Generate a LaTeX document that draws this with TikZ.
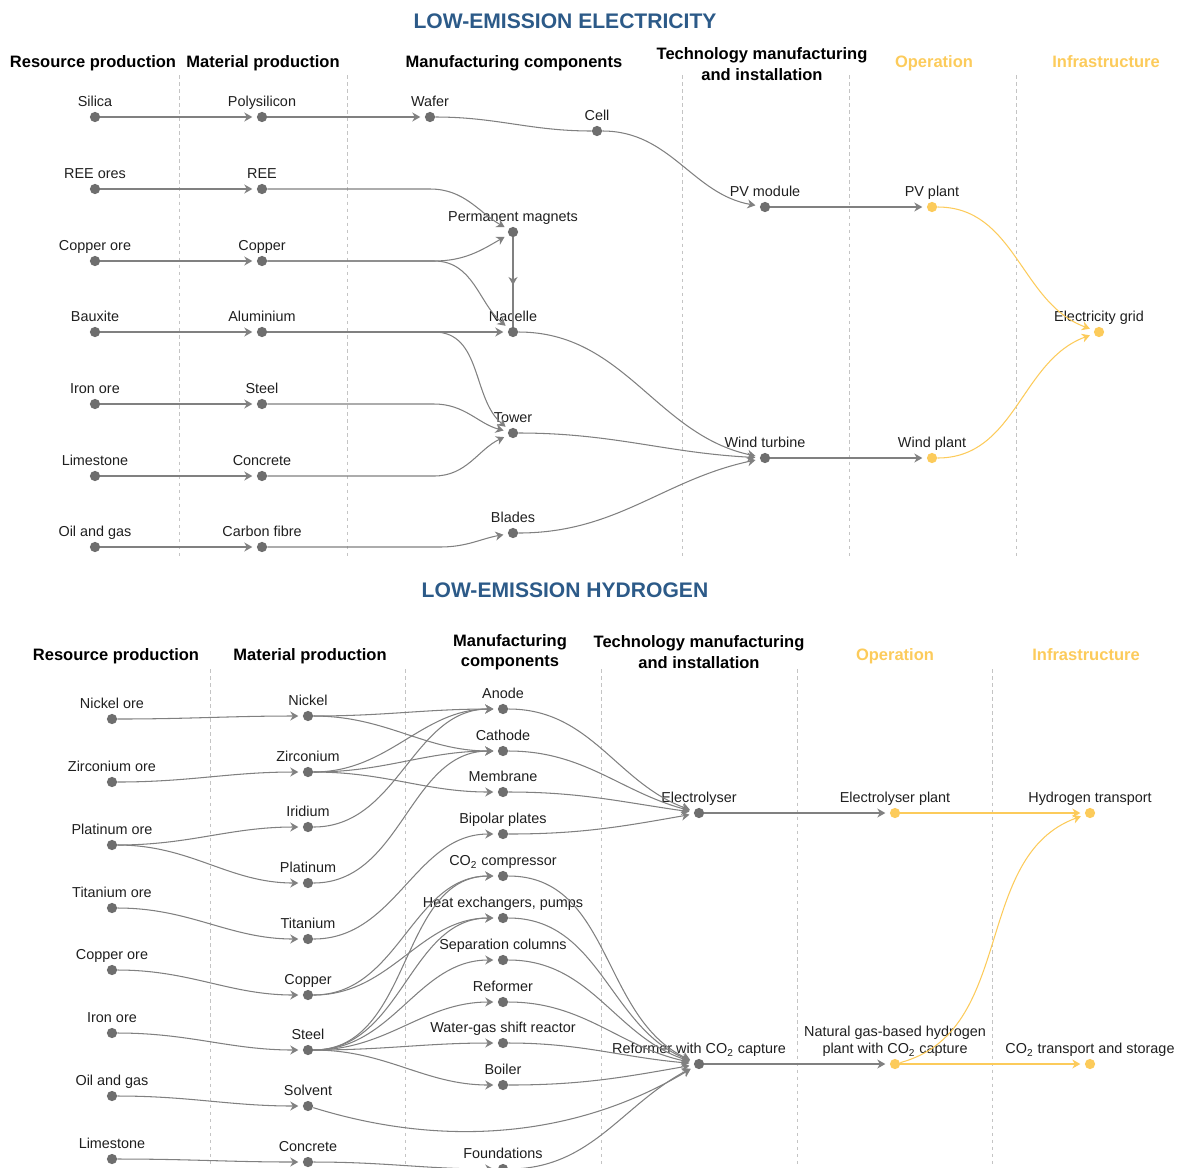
\documentclass[tikz,border=0pt]{standalone}
\usepackage{fontspec}
\setmainfont{Liberation Sans}
\usetikzlibrary{arrows.meta}

\definecolor{linkgray}{HTML}{808080}
\definecolor{dotgray}{HTML}{6E6E6E}
\definecolor{opyellow}{HTML}{FCCB5B}
\definecolor{titleblue}{HTML}{2C5A88}
\definecolor{sepgray}{HTML}{C4C4C4}

\begin{document}
\begin{tikzpicture}[
    x=0.02cm, y=0.02cm,
    dot/.style={circle, fill=dotgray, inner sep=0pt, minimum size=2.05mm},
    ydot/.style={dot, fill=opyellow},
    lbl/.style={font=\fontsize{8.2}{9.8}\selectfont, text=black!88, inner sep=0pt, text depth=0pt, align=center},
    every label/.style={lbl},
    label distance=2.4pt,
    plain/.style={draw=linkgray, line width=0.6pt},
    link/.style={plain, -{Stealth[length=1.6mm,width=1.8mm,inset=0.5mm]}, shorten >=2.4pt},
    ylink/.style={link, draw=opyellow},
    sep/.style={draw=sepgray, line width=0.5pt, dash pattern=on 2pt off 2pt},
    head/.style={font=\fontsize{9.4}{11.6}\selectfont\bfseries, align=center},
    yhead/.style={head, text=opyellow},
    title/.style={font=\fontsize{12}{14}\selectfont\bfseries, text=titleblue}
  ]
  \useasboundingbox (0,0) rectangle (1182,-1167);

  % ---- low-emission electricity ----
  \node[title, anchor=base] (eTitle) at (565,-28) {LOW-EMISSION ELECTRICITY};
  \node[head, anchor=base] (eH1) at (93,-67) {Resource production};
  \node[head, anchor=base] (eH2) at (263,-67) {Material production};
  \node[head, anchor=base] (eH3) at (514,-67) {Manufacturing components};
  \node[head] (eH4) at (762,-64) {Technology manufacturing\\and installation};
  \node[yhead, anchor=base] (eH5) at (934,-67) {Operation};
  \node[yhead, anchor=base] (eH6) at (1106,-67) {Infrastructure};

  \foreach \x in {179,347,682,849,1016}
    \draw[sep] (\x,-75) -- (\x,-557);

  \node[dot, label=above:Silica] (eSil) at (95,-117) {};
  \node[dot, label=above:Polysilicon] (ePoly) at (262,-117) {};
  \node[dot, label=above:Wafer] (eWaf) at (430,-117) {};
  \node[dot, label=above:Cell] (eCell) at (597,-131) {};
  \node[dot, label=above:PV module] (ePVm) at (765,-207) {};
  \node[ydot, label=above:PV plant] (ePVp) at (932,-207) {};
  \node[dot, label=above:REE ores] (eREEo) at (95,-189) {};
  \node[dot, label=above:REE] (eREE) at (262,-189) {};
  \node[dot, label=above:Permanent magnets] (ePM) at (513,-232) {};
  \node[dot, label=above:Copper ore] (eCuo) at (95,-261) {};
  \node[dot, label=above:Copper] (eCu) at (262,-261) {};
  \node[dot, label=above:Bauxite] (eBx) at (95,-332) {};
  \node[dot, label=above:Aluminium] (eAl) at (262,-332) {};
  \node[dot, label=above:Nacelle] (eNac) at (513,-332) {};
  \node[dot, label=above:Iron ore] (eFeo) at (95,-404) {};
  \node[dot, label=above:Steel] (eSt) at (262,-404) {};
  \node[dot, label=above:Tower] (eTow) at (513,-433) {};
  \node[dot, label=above:Limestone] (eLim) at (95,-476) {};
  \node[dot, label=above:Concrete] (eCon) at (262,-476) {};
  \node[dot, label=above:Oil and gas] (eOil) at (95,-547) {};
  \node[dot, label=above:Carbon fibre] (eCF) at (262,-547) {};
  \node[dot, label=above:Blades] (eBl) at (513,-533) {};
  \node[dot, label=above:Wind turbine] (eWT) at (765,-458) {};
  \node[ydot, label=above:Wind plant] (eWP) at (932,-458) {};
  \node[ydot, label=above:Electricity grid] (eGrid) at (1099,-332) {};

  \foreach \a/\b in {eSil/ePoly, eREEo/eREE, eCuo/eCu, eBx/eAl, eFeo/eSt, eLim/eCon, eOil/eCF}
    \draw[link] (\a) -- (\b);
  \draw[link] (ePoly) -- (eWaf);
  \draw[plain] (eWaf) to[out=0,in=180] (eCell);
  \draw[link] (eCell) to[out=0,in=170] (ePVm);
  \draw[link] (ePVm) -- (ePVp);
  \draw[link] (eREE) -- ++(168,0) to[out=0,in=150] (ePM);
  \draw[link] (eCu) -- ++(172,0) to[out=0,in=210] (ePM);
  \draw[link] (eCu) -- ++(172,0) to[out=0,in=140] (eNac);
  \draw[link] (eAl) -- (eNac);
  \draw[link] (eAl) -- ++(172,0) to[out=0,in=140] (eTow);
  \draw[link] (eSt) -- ++(172,0) to[out=0,in=165] (eTow);
  \draw[link] (eCon) -- ++(172,0) to[out=0,in=205] (eTow);
  \draw[link] (eCF) -- ++(178,0) to[out=0,in=190] (eBl);
  \draw[plain] (ePM) -- (eNac);
  \draw[link, shorten >=0pt] (ePM) -- ++(0,-53);
  \draw[link] (eNac) to[out=0,in=168] (eWT);
  \draw[link] (eTow) to[out=0,in=177] (eWT);
  \draw[link] (eBl) to[out=0,in=192] (eWT);
  \draw[link] (eWT) -- (eWP);
  \draw[ylink] (ePVp) to[out=0,in=160] (eGrid);
  \draw[ylink] (eWP) to[out=0,in=200] (eGrid);

  % ---- low-emission hydrogen ----
  \node[title, anchor=base] (hTitle) at (565,-597) {LOW-EMISSION HYDROGEN};
  \node[head, anchor=base] (hH1) at (116,-660) {Resource production};
  \node[head, anchor=base] (hH2) at (310,-660) {Material production};
  \node[head] (hH3) at (510,-652) {Manufacturing\\components};
  \node[head] (hH4) at (699,-652) {Technology manufacturing\\and installation};
  \node[yhead, anchor=base] (hH5) at (895,-660) {Operation};
  \node[yhead, anchor=base] (hH6) at (1086,-660) {Infrastructure};

  \foreach \x in {210,405,601,797,992}
    \draw[sep] (\x,-669) -- (\x,-1167);

  \node[dot, label=above:Nickel ore] (hNio) at (112,-719) {};
  \node[dot, label=above:Zirconium ore] (hZro) at (112,-782) {};
  \node[dot, label=above:Platinum ore] (hPto) at (112,-845) {};
  \node[dot, label=above:Titanium ore] (hTio) at (112,-908) {};
  \node[dot, label=above:Copper ore] (hCuo) at (112,-970) {};
  \node[dot, label=above:Iron ore] (hFeo) at (112,-1033) {};
  \node[dot, label=above:Oil and gas] (hOil) at (112,-1096) {};
  \node[dot, label=above:Limestone] (hLim) at (112,-1159) {};

  \node[dot, label=above:Nickel] (hNi) at (308,-716) {};
  \node[dot, label=above:Zirconium] (hZr) at (308,-772) {};
  \node[dot, label=above:Iridium] (hIr) at (308,-827) {};
  \node[dot, label=above:Platinum] (hPt) at (308,-883) {};
  \node[dot, label=above:Titanium] (hTi) at (308,-939) {};
  \node[dot, label=above:Copper] (hCu) at (308,-995) {};
  \node[dot, label=above:Steel] (hSt) at (308,-1050) {};
  \node[dot, label=above:Solvent] (hSol) at (308,-1106) {};
  \node[dot, label=above:Concrete] (hCon) at (308,-1162) {};

  \node[dot, label=above:Anode] (hAn) at (503,-709) {};
  \node[dot, label=above:Cathode] (hCa) at (503,-751) {};
  \node[dot, label=above:Membrane] (hMem) at (503,-792) {};
  \node[dot, label=above:Bipolar plates] (hBip) at (503,-834) {};
  \node[dot, label=above:CO\textsubscript{2} compressor] (hComp) at (503,-876) {};
  \node[dot, label=above:{Heat exchangers, pumps}] (hHX) at (503,-918) {};
  \node[dot, label=above:Separation columns] (hSepc) at (503,-960) {};
  \node[dot, label=above:Reformer] (hRef) at (503,-1002) {};
  \node[dot, label=above:Water-gas shift reactor] (hWGS) at (503,-1043) {};
  \node[dot, label=above:Boiler] (hBoil) at (503,-1085) {};
  \node[dot, label=above:Foundations] (hFnd) at (503,-1169) {};

  \node[dot, label=above:Electrolyser] (hEly) at (699,-813) {};
  \node[dot, label=above:Reformer with CO\textsubscript{2} capture] (hRCC) at (699,-1064) {};
  \node[ydot, label=above:Electrolyser plant] (hElyP) at (895,-813) {};
  \node[ydot, label={above:{Natural gas-based hydrogen\\plant with CO\textsubscript{2} capture}}] (hNGP) at (895,-1064) {};
  \node[ydot, label=above:Hydrogen transport] (hH2T) at (1090,-813) {};
  \node[ydot, label=above:CO\textsubscript{2} transport and storage] (hCO2T) at (1090,-1064) {};

  \foreach \a/\b in {hNio/hNi, hZro/hZr, hPto/hIr, hPto/hPt, hTio/hTi, hCuo/hCu, hFeo/hSt, hOil/hSol, hLim/hCon}
    \draw[link] (\a) to[out=0,in=180] (\b);
  \foreach \a/\b in {hNi/hAn, hNi/hCa, hZr/hAn, hZr/hCa, hZr/hMem, hIr/hAn, hPt/hCa, hTi/hBip,
                     hCu/hComp, hCu/hHX, hSt/hComp, hSt/hHX, hSt/hSepc, hSt/hRef, hSt/hWGS, hSt/hBoil, hCon/hFnd}
    \draw[link] (\a) to[out=0,in=180] (\b);
  \foreach \a/\i in {hAn/160, hCa/165, hMem/172, hBip/190}
    \draw[link] (\a) to[out=0,in=\i] (hEly);
  \foreach \a/\i in {hComp/155, hHX/158, hSepc/162, hRef/168, hWGS/175, hBoil/190, hFnd/208}
    \draw[link] (\a) to[out=0,in=\i] (hRCC);
  \draw[link] (hSol) .. controls +(142,-44) and +(-119,-71) .. (hRCC);
  \draw[link] (hEly) -- (hElyP);
  \draw[link] (hRCC) -- (hNGP);
  \draw[ylink] (hElyP) -- (hH2T);
  \draw[ylink] (hNGP) to[out=15,in=200] (hH2T);
  \draw[ylink] (hNGP) -- (hCO2T);
\end{tikzpicture}
\end{document}
